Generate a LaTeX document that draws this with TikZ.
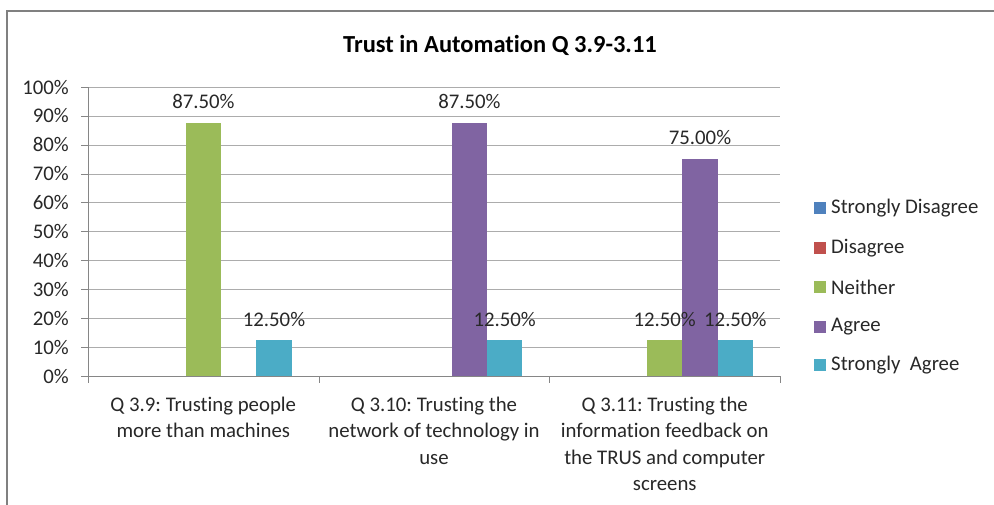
\documentclass[tikz,border=0pt]{standalone}
\usepackage{fontspec}
\setmainfont{Carlito}[Ligatures=NoCommon]
\usepackage{tikz}
\definecolor{sdblue}{RGB}{79, 129, 189}
\definecolor{dsred}{RGB}{192, 80, 77}
\definecolor{neithergreen}{RGB}{155, 187, 89}
\definecolor{agreepurple}{RGB}{128, 100, 162}
\definecolor{saaqua}{RGB}{75, 172, 198}
\definecolor{gridgray}{RGB}{172, 172, 172}
\definecolor{axisgray}{RGB}{134, 134, 134}
\definecolor{framegray}{RGB}{128, 128, 128}
\definecolor{labelgray}{RGB}{40, 40, 40}
\frenchspacing

\begin{document}
\begin{tikzpicture}[x=1pt, y=-1pt, font=\fontsize{20.8}{26.3}\selectfont, text=labelgray,
    ylabel/.style={anchor=east, inner sep=0pt},
    barlabel/.style={anchor=center, inner sep=0pt},
    catlabel/.style={anchor=north, align=center, inner sep=0pt},
    legendtext/.style={anchor=west, inner sep=0pt}]
            \useasboundingbox (0,0) rectangle (994,504);
            \fill[white] (0,0) rectangle (994,504);
            \draw[framegray, line width=2pt] (7,11) rectangle (1004,514);
            % gridlines
            \draw[gridgray]  (88, 87.0) -- (780, 87.0);
            \draw[gridgray]  (88,115.9) -- (780,115.9);
            \draw[gridgray]  (88,144.8) -- (780,144.8);
            \draw[gridgray]  (88,173.7) -- (780,173.7);
            \draw[gridgray]  (88,202.6) -- (780,202.6);
            \draw[gridgray]  (88,231.5) -- (780,231.5);
            \draw[gridgray]  (88,260.4) -- (780,260.4);
            \draw[gridgray]  (88,289.3) -- (780,289.3);
            \draw[gridgray]  (88,318.2) -- (780,318.2);
            \draw[gridgray]  (88,347.1) -- (780,347.1);
            % bars
            \fill[neithergreen]  (185.7,376.0) rectangle (221.0,123.1);
            \fill[saaqua]        (256.3,376.0) rectangle (291.6,339.9);
            \fill[agreepurple]   (451.7,376.0) rectangle (487.0,123.1);
            \fill[saaqua]        (487.0,376.0) rectangle (522.3,339.9);
            \fill[neithergreen]  (647.0,376.0) rectangle (682.3,339.9);
            \fill[agreepurple]   (682.3,376.0) rectangle (717.6,159.3);
            \fill[saaqua]        (717.6,376.0) rectangle (752.9,339.9);
            % axes and ticks
            \draw[axisgray] (88,87) -- (88,376) -- (780,376);
            \draw[axisgray] (81, 87.0) -- (88, 87.0);
            \draw[axisgray] (81,115.9) -- (88,115.9);
            \draw[axisgray] (81,144.8) -- (88,144.8);
            \draw[axisgray] (81,173.7) -- (88,173.7);
            \draw[axisgray] (81,202.6) -- (88,202.6);
            \draw[axisgray] (81,231.5) -- (88,231.5);
            \draw[axisgray] (81,260.4) -- (88,260.4);
            \draw[axisgray] (81,289.3) -- (88,289.3);
            \draw[axisgray] (81,318.2) -- (88,318.2);
            \draw[axisgray] (81,347.1) -- (88,347.1);
            \draw[axisgray] (81,376.0) -- (88,376.0);
            \draw[axisgray] (88.0,376) -- (88.0,383);
            \draw[axisgray] (318.7,376) -- (318.7,383);
            \draw[axisgray] (549.3,376) -- (549.3,383);
            \draw[axisgray] (780.0,376) -- (780.0,383);
            % title
            \node[anchor=center, text=black, font=\fontsize{24.5}{28}\selectfont\bfseries] (title) at (500,45) {Trust in Automation Q 3.9-3.11};
            % y axis labels
            \node[ylabel] (y100) at (69, 87.0) {100\%};
            \node[ylabel] (y90)  at (69,115.9) {90\%};
            \node[ylabel] (y80)  at (69,144.8) {80\%};
            \node[ylabel] (y70)  at (69,173.7) {70\%};
            \node[ylabel] (y60)  at (69,202.6) {60\%};
            \node[ylabel] (y50)  at (69,231.5) {50\%};
            \node[ylabel] (y40)  at (69,260.4) {40\%};
            \node[ylabel] (y30)  at (69,289.3) {30\%};
            \node[ylabel] (y20)  at (69,318.2) {20\%};
            \node[ylabel] (y10)  at (69,347.1) {10\%};
            \node[ylabel] (y0)   at (69,376.0) {0\%};
            % data labels
            \node[barlabel] (valA) at (203.4,101) {87.50\%};
            \node[barlabel] (valB) at (274.0,319) {12.50\%};
            \node[barlabel] (valC) at (469.4,101) {87.50\%};
            \node[barlabel] (valD) at (504.7,319) {12.50\%};
            \node[barlabel] (valE) at (664.7,319) {12.50\%};
            \node[barlabel] (valF) at (700.0,137) {75.00\%};
            \node[barlabel] (valG) at (735.3,319) {12.50\%};
            % category labels
            \node[catlabel] (catA) at (203.3,397) {Q 3.9: Trusting people\\more than machines};
            \node[catlabel] (catB) at (434.0,397) {Q 3.10: Trusting the\\network of technology in\\use};
            \node[catlabel] (catC) at (664.7,397) {Q 3.11: Trusting the\\information feedback on\\the TRUS and computer\\screens};
            % legend
            \fill[sdblue]        (814,202) rectangle (826,214);
            \fill[dsred]         (814,242) rectangle (826,254);
            \fill[neithergreen]  (814,281) rectangle (826,293);
            \fill[agreepurple]   (814,321) rectangle (826,333);
            \fill[saaqua]        (814,359) rectangle (826,371);
            \node[legendtext] (legSD) at (831,208) {Strongly Disagree};
            \node[legendtext] (legD)  at (831,248) {Disagree};
            \node[legendtext] (legN)  at (831,287) {Neither};
            \node[legendtext] (legA)  at (831,327) {Agree};
            \node[legendtext] (legSA) at (831,365) {Strongly\ \ Agree};
        \end{tikzpicture}
\end{document}
